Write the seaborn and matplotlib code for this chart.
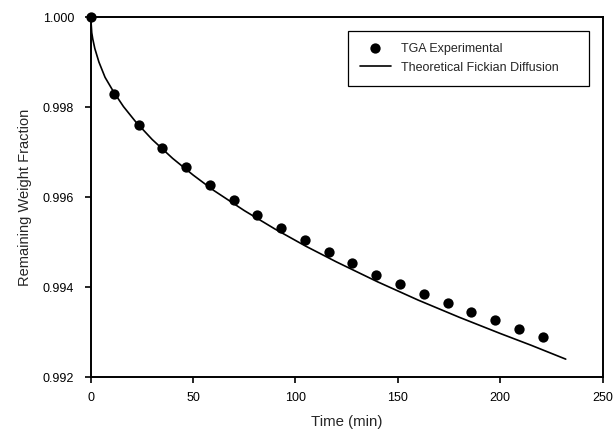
import pandas as pd
import seaborn as sns
import matplotlib.pyplot as plt

# TGA experimental points
exp_time = [0, 11.5, 23.4, 35.0, 46.7, 58.1, 69.8, 81.2, 92.9, 104.5,
            116.4, 127.7, 139.5, 150.9, 162.6, 174.3, 185.8, 197.6, 209.1, 220.7]
exp_weight = [1.0000, 0.99830, 0.99761, 0.99710, 0.99667, 0.99627, 0.99593,
              0.99560, 0.99532, 0.99504, 0.99477, 0.99453, 0.99428, 0.99407,
              0.99384, 0.99365, 0.99344, 0.99326, 0.99307, 0.99289]

# theoretical Fickian diffusion curve
fick_time = [0, 0.5, 1, 2, 4, 7, 11, 16, 22, 30, 40, 50, 60, 75, 90,
             105, 120, 140, 160, 180, 200, 215, 232]
fick_weight = [1.0000, 0.99965, 0.99951, 0.99930, 0.99900, 0.99866, 0.99835,
               0.99801, 0.99767, 0.99728, 0.99686, 0.99649, 0.99615, 0.99570,
               0.99529, 0.99491, 0.99456, 0.99412, 0.99371, 0.99333, 0.99297,
               0.99271, 0.99240]

x_ticks = [0, 50, 100, 150, 200, 250]
y_ticks = [0.992, 0.994, 0.996, 0.998, 1.000]


def main():
    sns.set_style("ticks")
    plt.rcParams['font.family'] = ['Liberation Sans', 'DejaVu Sans']

    exp = pd.DataFrame({'time': exp_time, 'weight': exp_weight})
    fick = pd.DataFrame({'time': fick_time, 'weight': fick_weight})

    fig = plt.figure(figsize=(6.13, 4.36), dpi=100)
    ax = fig.add_axes([0.148, 0.135, 0.835, 0.826])

    sns.lineplot(data=fick, x='time', y='weight', color='black', linewidth=1.2,
                 label='Theoretical Fickian Diffusion', ax=ax, zorder=2)
    sns.scatterplot(data=exp, x='time', y='weight', color='black', s=55,
                    edgecolor='black', linewidth=0, label='TGA Experimental',
                    ax=ax, zorder=3, clip_on=False)

    ax.set_xlim(0, 250)
    ax.set_ylim(0.992, 1.000)
    ax.set_xticks(x_ticks)
    ax.set_yticks(y_ticks)
    ax.set_xticklabels([str(t) for t in x_ticks])
    ax.set_yticklabels([f'{t:.3f}' for t in y_ticks])
    ax.tick_params(direction='out', length=4, width=1.2, labelsize=9,
                   colors='black', pad=8)
    ax.tick_params(axis='x', pad=7)
    for sp in ax.spines.values():
        sp.set_visible(True)
        sp.set_linewidth(1.4)
        sp.set_color('black')

    ax.set_xlabel('Time (min)', fontsize=10.8, labelpad=7.5)
    ax.set_ylabel('Remaining Weight Fraction', fontsize=10.5, labelpad=8)

    handles, labels = ax.get_legend_handles_labels()
    order = [labels.index('TGA Experimental'),
             labels.index('Theoretical Fickian Diffusion')]
    leg = ax.legend([handles[i] for i in order], [labels[i] for i in order],
                    loc='upper left', bbox_to_anchor=(0.5025, 0.5, 0.4707, 0.462),
                    mode='expand', fontsize=9, frameon=True, fancybox=False,
                    framealpha=1, edgecolor='black', handlelength=2.5,
                    borderpad=0.95, labelspacing=0.57, handletextpad=0.8,
                    borderaxespad=0)
    leg.get_frame().set_linewidth(0.9)

    fig.savefig('out.png', dpi=100)


if __name__ == '__main__':
    main()
